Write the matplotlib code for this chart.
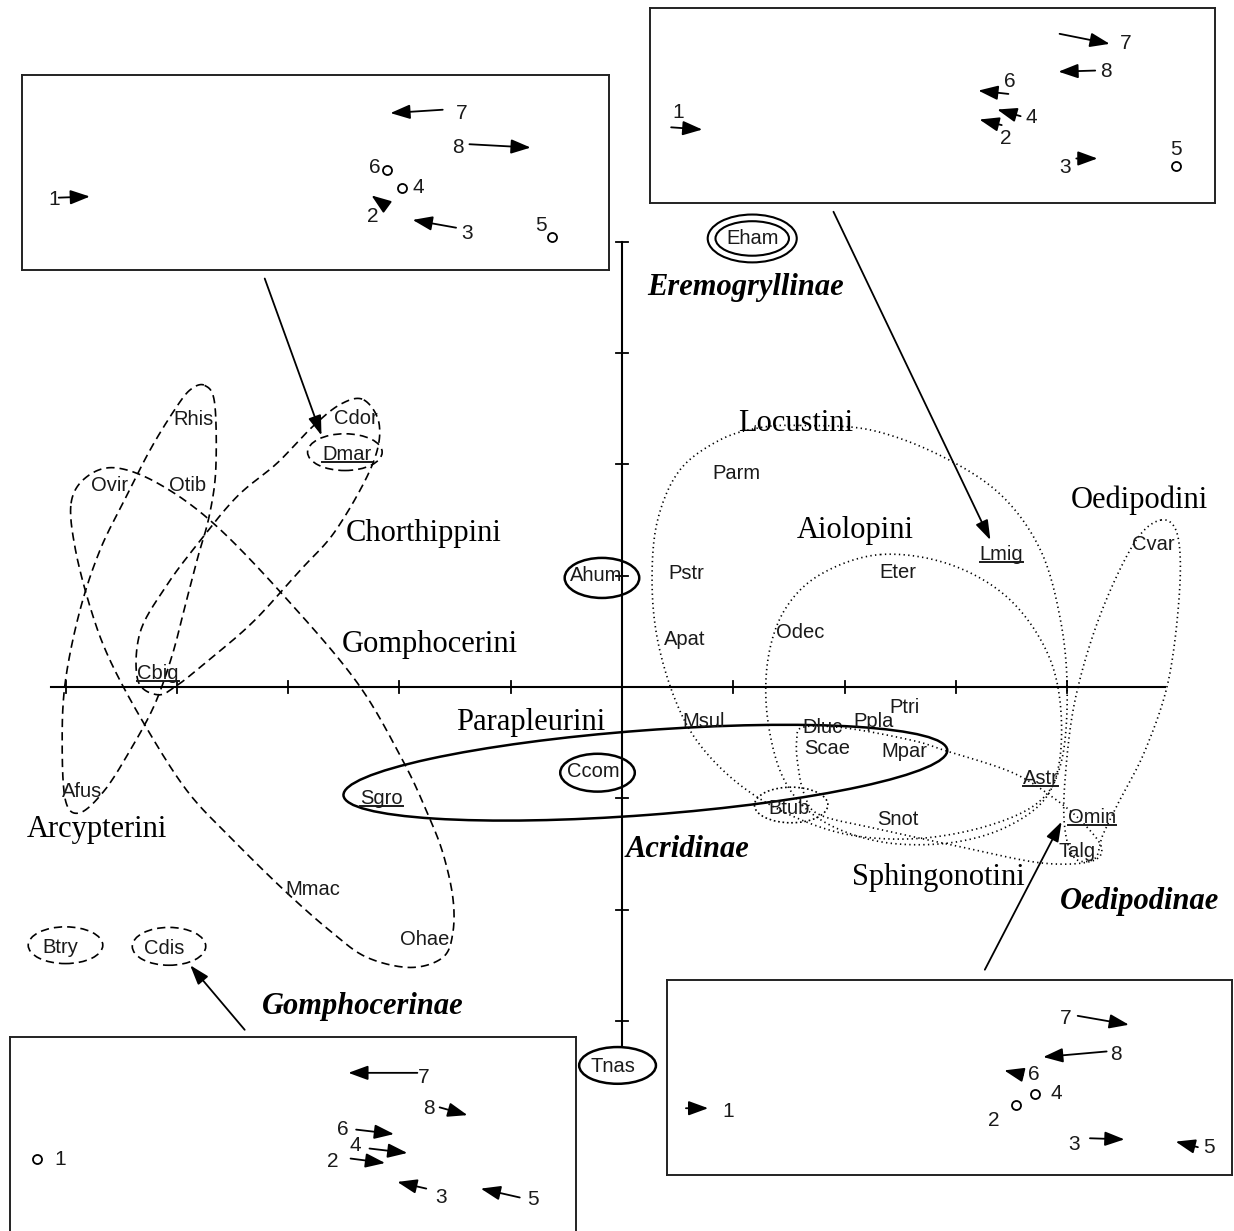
import numpy as np
import matplotlib
matplotlib.use("Agg")
import matplotlib.pyplot as plt
from matplotlib.patches import Ellipse

# species scores on the first two axes
species = ["Rhis", "Cdor", "Dmar", "Ovir", "Otib", "Cbig", "Afus", "Mmac", "Ohae",
           "Btry", "Cdis", "Sgro", "Ahum", "Ccom", "Eham", "Tnas", "Parm", "Pstr",
           "Apat", "Odec", "Eter", "Lmig", "Cvar", "Msul", "Ptri", "Ppla", "Dluc",
           "Scae", "Mpar", "Astr", "Btub", "Snot", "Omin", "Talg"]
sp_x = [-3.85, -2.39, -2.47, -4.60, -3.90, -4.17, -4.85, -2.78, -1.77,
        -5.05, -4.11, -2.16, -0.23, -0.26, 1.17, -0.08, 1.03, 0.58,
        0.56, 1.60, 2.48, 3.41, 4.77, 0.73, 2.54, 2.26, 1.80,
        1.84, 2.54, 3.76, 1.50, 2.48, 4.22, 4.09]
sp_y = [2.40, 2.41, 2.09, 1.81, 1.81, 0.12, -0.94, -1.82, -2.27,
        -2.34, -2.35, -1.00, 1.00, -0.76, 4.03, -3.41, 1.92, 1.02,
        0.43, 0.49, 1.03, 1.19, 1.28, -0.31, -0.18, -0.31, -0.36,
        -0.55, -0.58, -0.82, -1.09, -1.19, -1.17, -1.48]
underlined = ["Dmar", "Cbig", "Sgro", "Lmig", "Astr", "Omin"]

# tribes and subfamilies
tribes = ["Chorthippini", "Gomphocerini", "Arcypterini", "Parapleurini",
          "Locustini", "Aiolopini", "Oedipodini", "Sphingonotini"]
tribe_x = [-1.78, -1.73, -4.72, -0.82, 1.56, 2.10, 4.65, 2.84]
tribe_y = [1.38, 0.38, -1.28, -0.32, 2.37, 1.41, 1.68, -1.71]
subfams = ["Eremogryllinae", "Acridinae", "Oedipodinae", "Gomphocerinae"]
subfam_x = [1.11, 0.59, 4.65, -2.33]
subfam_y = [3.59, -1.46, -1.93, -2.87]

# envelopes around tribes (closed outlines)
chorth_x = [-2.32, -2.18, -2.25, -2.57, -2.89, -3.32, -3.74, -3.99, -4.17, -4.35,
            -4.33, -4.10, -3.81, -3.46, -3.10, -2.79, -2.53]
chorth_y = [2.58, 2.35, 1.98, 1.41, 1.05, 0.58, 0.22, 0.02, -0.07, 0.06,
            0.49, 0.90, 1.29, 1.71, 2.01, 2.33, 2.54]
gomph_x = [-4.95, -4.82, -4.56, -4.17, -3.67, -3.03, -2.38, -1.97, -1.75, -1.61,
           -1.52, -1.52, -1.61, -1.90, -2.29, -2.60, -3.01, -3.50, -3.91, -4.30,
           -4.60, -4.77, -4.91]
gomph_y = [1.65, 1.88, 1.97, 1.83, 1.47, 0.81, 0.04, -0.66, -1.13, -1.49,
           -1.89, -2.21, -2.43, -2.52, -2.43, -2.21, -1.85, -1.37, -0.93, -0.32,
           0.24, 0.69, 1.23]
arcyp_x = [-3.75, -3.66, -3.65, -3.71, -3.81, -3.92, -4.04, -4.20, -4.42, -4.65,
           -4.87, -5.00, -5.03, -5.00, -4.87, -4.69, -4.47, -4.24, -4.02, -3.88]
arcyp_y = [2.71, 2.55, 1.95, 1.53, 1.17, 0.75, 0.29, -0.16, -0.57, -0.93,
           -1.13, -1.02, -0.48, 0.06, 0.69, 1.23, 1.68, 2.13, 2.49, 2.67]
locust_x = [1.60, 2.23, 2.86, 3.40, 3.76, 3.94, 4.00, 3.95, 3.76, 3.31, 2.68,
            2.05, 1.51, 1.06, 0.70, 0.48, 0.32, 0.27, 0.32, 0.52, 0.88, 1.24]
locust_y = [2.35, 2.31, 2.08, 1.73, 1.23, 0.60, -0.03, -0.66, -1.02, -1.24, -1.36,
            -1.33, -1.15, -0.88, -0.52, -0.12, 0.42, 0.96, 1.50, 1.95, 2.22, 2.33]
aiol_x = [2.32, 2.95, 3.49, 3.85, 3.95, 3.85, 3.49, 2.95, 2.32, 1.78, 1.46,
          1.31, 1.31, 1.46, 1.78]
aiol_y = [1.19, 1.10, 0.78, 0.24, -0.39, -0.93, -1.24, -1.40, -1.39, -1.19, -0.84,
          -0.30, 0.24, 0.69, 1.01]
oedip_x = [4.84, 4.99, 5.01, 4.91, 4.70, 4.47, 4.32, 4.25, 4.07, 3.98, 3.98,
           4.07, 4.29, 4.60]
oedip_y = [1.50, 1.37, 0.87, 0.06, -0.57, -1.02, -1.33, -1.54, -1.54, -1.28, -0.84,
           -0.12, 0.63, 1.29]
sphin_x = [1.63, 2.02, 2.61, 2.90, 3.51, 3.91, 4.16, 4.31, 4.20, 3.76, 3.06,
           2.32, 1.78, 1.64, 1.58, 1.57]
sphin_y = [-0.36, -0.37, -0.48, -0.57, -0.77, -1.02, -1.24, -1.45, -1.57, -1.58, -1.44,
           -1.28, -1.15, -0.97, -0.70, -0.48]

# single-species rings: centre x, centre y, width, height
rings = {
    "Ahum": (-0.18, 0.98, 0.67, 0.36, "-"),
    "Ccom": (-0.22, -0.77, 0.67, 0.34, "-"),
    "Tnas": (-0.04, -3.40, 0.69, 0.33, "-"),
    "Dmar": (-2.49, 2.11, 0.67, 0.33, "--"),
    "Btry": (-5.00, -2.32, 0.67, 0.33, "--"),
    "Cdis": (-4.07, -2.33, 0.66, 0.34, "--"),
    "Btub": (1.52, -1.06, 0.66, 0.32, ":"),
}
parap = (0.21, -0.77, 5.44, 0.76, 4.3)  # Parapleurini ellipse

xticks = [-5, -4, -3, -2, -1, 1, 2, 3, 4]
yticks = [-3, -2, -1, 1, 2, 3, 4]

# inset panels: numbers 1-8, position of the number, arrow tail / head
# (tail == head means an unchanged score, drawn as a circle)
insets = [
    dict(rect=(22, 75, 609, 270),
         lab_x=[0.29, 3.15, 4.00, 3.56, 4.66, 3.17, 3.95, 3.92],
         lab_y=[0.63, 0.48, 0.33, 0.74, 0.40, 0.92, 1.41, 1.10],
         x0=[0.33, 3.25, 3.90, 3.41, 4.76, 3.28, 3.78, 4.02],
         y0=[0.65, 0.59, 0.38, 0.74, 0.30, 0.90, 1.44, 1.13],
         x1=[0.61, 3.14, 3.51, 3.41, 4.76, 3.28, 3.31, 4.57],
         y1=[0.66, 0.67, 0.45, 0.74, 0.30, 0.90, 1.41, 1.10],
         link=((-3.21, 3.67), (-2.70, 2.26))),
    dict(rect=(650, 8, 1215, 203),
         lab_x=[0.25, 3.20, 3.73, 3.43, 4.73, 3.23, 4.27, 4.10],
         lab_y=[0.81, 0.58, 0.32, 0.77, 0.48, 1.09, 1.43, 1.18],
         x0=[0.19, 3.16, 3.83, 3.33, 4.73, 3.22, 3.68, 4.00],
         y0=[0.68, 0.70, 0.40, 0.78, 0.33, 0.98, 1.52, 1.19],
         x1=[0.47, 2.96, 4.02, 3.12, 4.73, 2.95, 4.13, 3.67],
         y1=[0.66, 0.75, 0.40, 0.84, 0.33, 1.01, 1.43, 1.18],
         link=((1.90, 4.27), (3.31, 1.32))),
    dict(rect=(10, 1037, 576, 1232),
         lab_x=[0.45, 2.90, 3.87, 3.10, 4.70, 2.99, 3.72, 3.76],
         lab_y=[0.65, 0.63, 0.31, 0.78, 0.29, 0.92, 1.39, 1.11],
         x0=[0.24, 3.06, 3.74, 3.23, 4.58, 3.11, 3.66, 3.86],
         y0=[0.66, 0.66, 0.39, 0.75, 0.31, 0.92, 1.43, 1.12],
         x1=[0.24, 3.37, 3.48, 3.57, 4.23, 3.45, 3.04, 4.11],
         y1=[0.66, 0.62, 0.45, 0.71, 0.39, 0.88, 1.43, 1.05],
         link=((-3.39, -3.08), (-3.88, -2.50))),
    dict(rect=(667, 980, 1232, 1175),
         lab_x=[0.55, 2.94, 3.66, 3.50, 4.87, 3.30, 3.58, 4.03],
         lab_y=[0.57, 0.49, 0.27, 0.73, 0.25, 0.90, 1.41, 1.08],
         x0=[0.17, 3.14, 3.80, 3.31, 4.77, 3.20, 3.69, 3.95],
         y0=[0.60, 0.63, 0.33, 0.73, 0.25, 0.90, 1.43, 1.11],
         x1=[0.37, 3.14, 4.11, 3.31, 4.57, 3.03, 4.15, 3.38],
         y1=[0.60, 0.63, 0.32, 0.73, 0.30, 0.94, 1.35, 1.06],
         link=((3.26, -2.54), (3.95, -1.21))),
]


def smooth_loop(xs, ys, n=24):
    # closed Catmull-Rom curve through the outline points
    p = np.column_stack([xs, ys])
    m = len(p)
    t = np.linspace(0, 1, n, endpoint=False)[:, None]
    seg = []
    for i in range(m):
        p0, p1, p2, p3 = p[i - 1], p[i], p[(i + 1) % m], p[(i + 2) % m]
        seg.append(0.5 * (2 * p1 + (-p0 + p2) * t
                          + (2 * p0 - 5 * p1 + 4 * p2 - p3) * t ** 2
                          + (-p0 + 3 * p1 - 3 * p2 + p3) * t ** 3))
    pts = np.vstack(seg + [seg[0][:1]])
    return pts[:, 0], pts[:, 1]


W, H, UNIT = 1234, 1231, 111.3
fig = plt.figure(figsize=(W / 100, H / 100), dpi=100)
ax = fig.add_axes([0, 0, 1, 1])
ax.set_xlim(-622 / UNIT, (W - 622) / UNIT)
ax.set_ylim(-(H - 687) / UNIT, 687 / UNIT)
ax.axis("off")

sans = "Liberation Sans"
serif = "Liberation Serif"
dash = (0, (5, 3))
dot = (0, (0.8, 2))

# axes of the ordination
ax.plot([-5.13, 4.88], [0, 0], color="k", lw=1.5, zorder=1)
ax.plot([0, 0], [-3.23, 4.0], color="k", lw=1.5, zorder=1)
for t in xticks:
    ax.plot([t, t], [-0.055, 0.055], color="k", lw=1.3)
for t in yticks:
    ax.plot([-0.05, 0.05], [t, t], color="k", lw=1.3)

# tribe envelopes
for xs, ys, ls in [(chorth_x, chorth_y, dash), (gomph_x, gomph_y, dash),
                   (arcyp_x, arcyp_y, dash), (locust_x, locust_y, dot),
                   (aiol_x, aiol_y, dot), (oedip_x, oedip_y, dot),
                   (sphin_x, sphin_y, dot)]:
    cx, cy = smooth_loop(xs, ys)
    ax.plot(cx, cy, color="k", lw=1.2, linestyle=ls)

ax.add_patch(Ellipse(parap[:2], parap[2], parap[3], angle=parap[4],
                     fill=False, ec="k", lw=1.8))
for name, (cx, cy, w, h, ls) in rings.items():
    ax.add_patch(Ellipse((cx, cy), w, h, fill=False, ec="k",
                         lw=1.8 if ls == "-" else 1.2, linestyle=ls if ls != "--" else dash))
# Eham: double ring
ax.add_patch(Ellipse((1.17, 4.03), 0.80, 0.43, fill=False, ec="k", lw=1.5))
ax.add_patch(Ellipse((1.17, 4.03), 0.66, 0.31, fill=False, ec="k", lw=1.5))

texts = {}
for name, x, y in zip(species, sp_x, sp_y):
    texts[name] = ax.text(x, y, name, ha="center", va="center", fontsize=14.5,
                          family=sans, color="#1a1a1a")
for name, x, y in zip(tribes, tribe_x, tribe_y):
    ax.text(x, y, name, ha="center", va="center", fontsize=22, family=serif)
for name, x, y in zip(subfams, subfam_x, subfam_y):
    ax.text(x, y, name, ha="center", va="center", fontsize=22, family=serif,
            weight="bold", style="italic")

fig.canvas.draw()
renderer = fig.canvas.get_renderer()
inv = ax.transData.inverted()
for name in underlined:
    bb = texts[name].get_window_extent(renderer)
    (ux0, uy), (ux1, _) = inv.transform([[bb.x0, bb.y0 + 2], [bb.x1, bb.y0 + 2]])
    ax.plot([ux0, ux1], [uy, uy], color="#1a1a1a", lw=1.4)

arrow_main = dict(arrowstyle="-|>,head_length=0.6,head_width=0.2",
                  mutation_scale=20, color="k", lw=1.3, shrinkA=0, shrinkB=0)
arrow_small = dict(arrowstyle="-|>,head_length=0.6,head_width=0.22",
                   mutation_scale=20, color="k", lw=1.3, shrinkA=0, shrinkB=0)

for ins in insets:
    x0, y0, x1, y1 = ins["rect"]
    iax = fig.add_axes([x0 / W, 1 - y1 / H, (x1 - x0) / W, (y1 - y0) / H])
    iax.set_xlim(0, (x1 - x0) / UNIT)
    iax.set_ylim(0, (y1 - y0) / UNIT)
    iax.set_xticks([])
    iax.set_yticks([])
    for s in iax.spines.values():
        s.set_linewidth(1.4)
        s.set_color("#222222")
    for k in range(8):
        iax.text(ins["lab_x"][k], ins["lab_y"][k], str(k + 1), ha="center",
                 va="center", fontsize=15, family=sans, color="#1a1a1a")
        a, b = (ins["x0"][k], ins["y0"][k]), (ins["x1"][k], ins["y1"][k])
        if a == b:
            iax.plot(*a, marker="o", ms=6.5, mfc="white", mec="k", mew=1.3)
        else:
            iax.annotate("", xy=b, xytext=a, arrowprops=arrow_small)
    tail, head = ins["link"]
    ax.annotate("", xy=head, xytext=tail, arrowprops=arrow_main)

fig.savefig("out.png", dpi=100, facecolor="white")
